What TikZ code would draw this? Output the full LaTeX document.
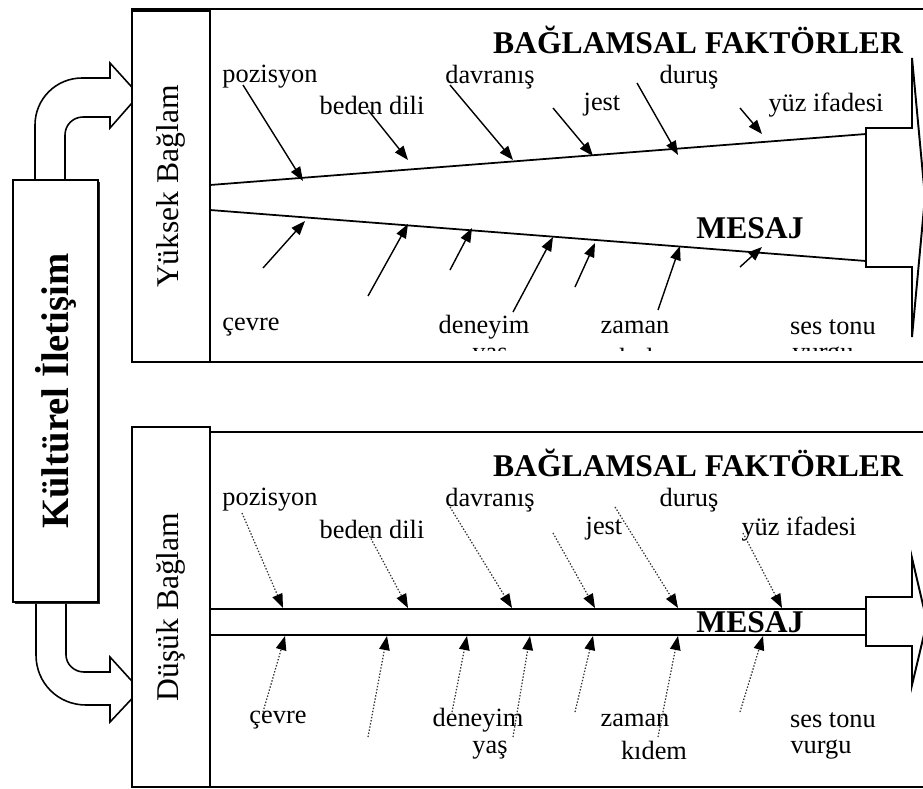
\documentclass[tikz,border=0pt]{standalone}
\usepackage{fontspec}
\setmainfont{Liberation Serif}
\usetikzlibrary{arrows.meta,positioning}

\begin{document}
\begin{tikzpicture}[
    x=0.02cm, y=-0.02cm,
    frame/.style={draw, line width=1.1pt},
    ctxbox/.style={draw, fill=white, line width=0.9pt, rotate=90, inner sep=0pt, font=\fontsize{18}{20}\selectfont},
    factor/.style={inner sep=0pt, font=\fontsize{15}{17}\selectfont, yshift=-0.04cm},
    heading/.style={inner sep=0pt, font=\fontsize{18}{20}\selectfont\bfseries},
    bone/.style={draw, line width=1pt},
    cause/.style={-{Triangle[length=8pt,width=6pt,color=black]}, line width=0.8pt},
    weakcause/.style={cause, densely dotted, line width=0.7pt, draw=black!80}
]
    \useasboundingbox (0,0) rectangle (923,788);
    \clip (0,0) rectangle (923,788);

    % Panel frames
    \draw[frame] (132,9) rectangle (940,362);
    \draw[frame] (132,432) rectangle (940,787);

    % Curved arrows out of the culture box
    \draw[line width=0.9pt] (35,180) -- (35,125) .. controls (35,99) and (56,78) .. (82,78) -- (110,78)
        -- (110,63) -- (139,95) -- (110,128) -- (110,117) -- (83,117)
        .. controls (73,117) and (65,125) .. (65,135) -- (65,180);
    \draw[line width=0.9pt] (36,602) -- (36,655) .. controls (36,683) and (58,705) .. (86,705) -- (110,705)
        -- (110,722) -- (140,690) -- (110,657) -- (110,672) -- (84,672)
        .. controls (74,672) and (66,664) .. (66,655) -- (66,602);

    \fill[black!85] (15,182) rectangle (100,604);
    \node[ctxbox, minimum width=8.44cm, minimum height=1.7cm, font=\fontsize{22}{24}\selectfont\bfseries] (culture) at (55.5,391) {Kültürel İletişim};
    \node[ctxbox, minimum width=7.02cm, minimum height=1.56cm] (high) at (171,186.5) {Yüksek Bağlam};
    \node[ctxbox, minimum width=7.2cm, minimum height=1.56cm] (low) at (171,607) {Düşük Bağlam};

    % High context: converging bones
    \coordinate (hUpL) at (210,185);
    \coordinate (hUpR) at (866,134);
    \coordinate (hLoL) at (210,210);
    \coordinate (hLoR) at (866,261);
    \draw[bone] (hUpL) -- (hUpR);
    \draw[bone] (hLoL) -- (hLoR);
    \draw[frame, fill=white] (866,128) -- (912,128) -- (912,58) -- (925,197) -- (912,337) -- (912,267) -- (866,267) -- cycle;

    \node[heading] (hHead) at (698,40) {BAĞLAMSAL FAKTÖRLER};
    \node[heading] (hMsg) at (750,228) {MESAJ};
    \node[factor] (hPos) at (270,75) {pozisyon};
    \node[factor] (hBody) at (372,103) {beden dili};
    \node[factor] (hBeh) at (490,75) {davranış};
    \node[factor] (hGest) at (602,103) {jest};
    \node[factor] (hStand) at (689,75) {duruş};
    \node[factor] (hFace) at (826,103) {yüz ifadesi};
    \node[factor] (hEnv) at (251,325) {çevre};
    \node[factor] (hExp) at (484,325) {deneyim};
    \node[factor] (hTime) at (635,325) {zaman};
    \node[factor] (hTone) at (833,325) {ses tonu};
    \begin{scope}
        \clip (210,0) rectangle (923,350);
        \node[factor] (hAge) at (490,355) {yaş};
        \node[factor] (hRank) at (652,355) {kıdem};
        \node[factor] (hStress) at (823,355) {vurgu};
    \end{scope}

    \foreach \i/\sx/\sy/\ex/\ey in {1/243/85/303/181, 2/368/110/408/160, 3/450/85/513/160,
        4/553/108/593/156, 5/637/83/678/155, 6/740/108/762/134}
    {
        \coordinate (ht\i) at (\sx,\sy);
        \coordinate (he\i) at (\ex,\ey);
        \draw[cause] (ht\i) -- (he\i);
    }
    \foreach \i/\sx/\sy/\ex/\ey in {1/263/268/305/221, 2/368/296/408/224, 3/450/270/472/228,
        4/513/312/553/237, 5/575/287/595/243, 6/658/310/680/246, 7/740/267/762/247}
    {
        \coordinate (hb\i) at (\sx,\sy);
        \coordinate (hf\i) at (\ex,\ey);
        \draw[cause] (hb\i) -- (hf\i);
    }

    % Low context: parallel bones
    \coordinate (lUpL) at (210,609);
    \coordinate (lUpR) at (866,609);
    \coordinate (lLoL) at (210,635);
    \coordinate (lLoR) at (866,635);
    \draw[bone] (lUpL) -- (lUpR);
    \draw[bone] (lLoL) -- (lLoR);
    \draw[frame, fill=white] (866,597) -- (912,597) -- (912,558) -- (927,622) -- (912,685) -- (912,646) -- (866,646) -- cycle;

    \node[heading] (lHead) at (698,463) {BAĞLAMSAL FAKTÖRLER};
    \node[heading] (lMsg) at (750,622) {MESAJ};
    \node[factor] (lPos) at (270,498) {pozisyon};
    \node[factor] (lBody) at (372,527) {beden dili};
    \node[factor] (lBeh) at (490,498) {davranış};
    \node[factor] (lGest) at (604,527) {jest};
    \node[factor] (lStand) at (689,498) {duruş};
    \node[factor] (lFace) at (799,527) {yüz ifadesi};
    \node[factor] (lEnv) at (278,718) {çevre};
    \node[factor] (lExp) at (478,718) {deneyim};
    \node[factor] (lAge) at (490,748) {yaş};
    \node[factor] (lTime) at (635,718) {zaman};
    \node[factor] (lRank) at (654,748) {kıdem};
    \node[factor] (lTone) at (833,718) {ses tonu};
    \node[factor] (lStress) at (821,748) {vurgu};

    \foreach \i/\sx/\sy/\ex/\ey in {1/242/513/283/608, 2/368/533/408/608, 3/450/507/512/608,
        4/553/533/595/608, 5/615/507/678/608, 6/743/533/782/608}
    {
        \coordinate (lt\i) at (\sx,\sy);
        \coordinate (le\i) at (\ex,\ey);
        \draw[weakcause] (lt\i) -- (le\i);
    }
    \foreach \i/\sx/\sy/\ex/\ey in {1/263/712/285/636, 2/368/737/387/636, 3/452/712/467/636,
        4/513/737/530/636, 5/575/712/593/636, 6/658/737/678/636, 7/740/712/763/636}
    {
        \coordinate (lb\i) at (\sx,\sy);
        \coordinate (lf\i) at (\ex,\ey);
        \draw[weakcause] (lb\i) -- (lf\i);
    }
\end{tikzpicture}
\end{document}
